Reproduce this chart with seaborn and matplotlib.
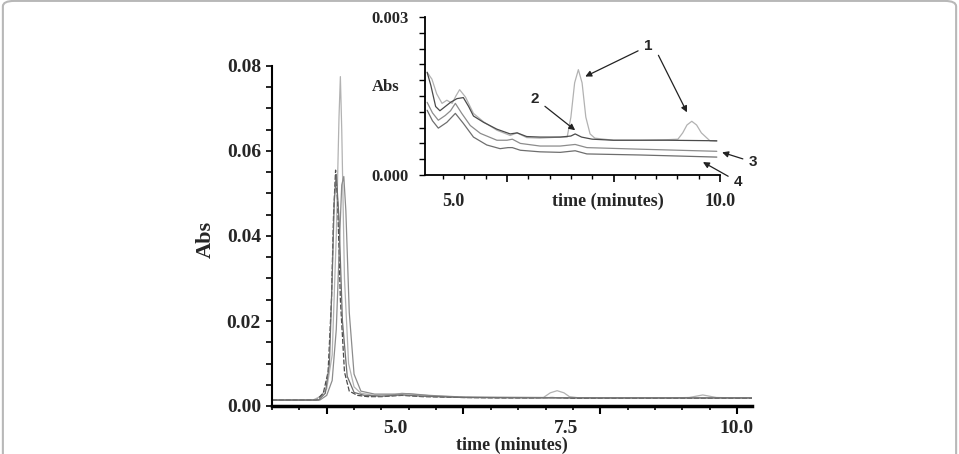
import matplotlib
matplotlib.use("Agg")
import matplotlib.pyplot as plt
import matplotlib.ticker as mticker
from matplotlib.patches import FancyBboxPatch
import seaborn as sns
import pandas as pd

# main chromatogram, four runs (time in minutes, absorbance)
t1 = [3.2, 3.8, 3.9, 4.0, 4.08, 4.14, 4.18, 4.20, 4.22, 4.26, 4.32, 4.40, 4.5, 4.7, 5.0, 5.1, 5.3,
      5.6, 6.0, 6.5, 7.0, 7.17, 7.27, 7.37, 7.47, 7.55, 7.7, 8.0, 8.5, 9.0, 9.3, 9.5, 9.7, 10.0, 10.25]
a1 = [.0014, .0014, .0022, .004, .012, .04, .068, .0775, .065, .03, .010, .0045, .0030, .0025, .0027,
      .0030, .0027, .0023, .0021, .0020, .0020, .0020, .0031, .0036, .0031, .0022, .0019, .0019, .0019,
      .0019, .0020, .0026, .0020, .0019, .0019]
t2 = [3.2, 3.85, 3.95, 4.02, 4.07, 4.10, 4.13, 4.16, 4.20, 4.26, 4.33, 4.45, 4.6, 4.8, 5.1, 5.4,
      6.0, 6.5, 7.0, 7.3, 7.6, 8.0, 9.0, 10.25]
a2 = [.0014, .0014, .003, .008, .025, .045, .0555, .048, .025, .008, .0035, .0025, .0022, .0022,
      .0025, .0022, .0020, .0019, .0019, .0020, .0018, .0018, .0018, .0018]
t3 = [3.2, 3.9, 4.0, 4.08, 4.14, 4.19, 4.22, 4.25, 4.28, 4.33, 4.4, 4.5, 4.7, 5.0, 5.2, 5.5, 6.0,
      7.0, 8.0, 9.0, 10.25]
a3 = [.0014, .0014, .0025, .006, .018, .04, .052, .054, .046, .022, .0075, .0035, .0028, .0028,
      .0029, .0025, .0021, .0020, .0019, .0019, .0019]
t4 = [3.2, 3.88, 3.98, 4.04, 4.08, 4.11, 4.14, 4.18, 4.23, 4.3, 4.4, 4.55, 4.8, 5.1, 5.4, 6.0,
      7.0, 8.0, 9.0, 10.25]
a4 = [.0014, .0014, .003, .010, .030, .048, .0545, .044, .020, .007, .0032, .0025, .0023, .0026,
      .0023, .0020, .0019, .0019, .0019, .0019]

# inset, zoom on 4.5-10 min
it1 = [4.50, 4.59, 4.68, 4.78, 4.87, 4.97, 5.04, 5.11, 5.22, 5.37, 5.56, 5.81, 6.06, 6.19, 6.37,
       6.62, 7.00, 7.13, 7.20, 7.27, 7.34, 7.41, 7.48, 7.56, 7.65, 8.0, 8.5, 9.0, 9.21, 9.30, 9.38,
       9.47, 9.56, 9.65, 9.81, 9.94]
ia1 = [.00195, .00182, .00154, .00136, .00142, .00136, .00150, .00162, .00148, .00117, .00101,
       .00085, .00075, .00080, .00071, .00070, .00072, .00072, .00110, .00175, .00200, .00175,
       .00110, .00078, .00070, .00066, .00066, .00067, .00068, .00080, .00095, .00102, .00095,
       .00080, .00065, .00064]
it2 = [4.50, 4.57, 4.66, 4.74, 4.84, 4.94, 5.06, 5.18, 5.28, 5.37, 5.56, 5.81, 6.06, 6.19, 6.37,
       6.62, 7.00, 7.20, 7.28, 7.40, 7.60, 8.0, 9.0, 9.94]
ia2 = [.00195, .00170, .00130, .00122, .00130, .00138, .00145, .00147, .00130, .00112, .00100,
       .00087, .00078, .00080, .00073, .00072, .00072, .00074, .00078, .00072, .00068, .00066,
       .00066, .00065]
it3 = [4.50, 4.60, 4.71, 4.84, 4.94, 5.03, 5.15, 5.31, 5.50, 5.81, 6.00, 6.10, 6.25, 6.62, 7.00,
       7.28, 7.50, 8.5, 9.94]
ia3 = [.00138, .00118, .00104, .00113, .00122, .00136, .00117, .00094, .00079, .00066, .00066,
       .00068, .00060, .00055, .00055, .00058, .00052, .00049, .00045]
it4 = [4.50, 4.60, 4.71, 4.87, 5.03, 5.18, 5.37, 5.62, 5.87, 6.02, 6.10, 6.25, 6.62, 7.00, 7.28,
       7.50, 8.5, 9.94]
ia4 = [.00123, .00103, .00089, .00100, .00117, .00098, .00072, .00057, .00050, .00052, .00052,
       .00047, .00044, .00043, .00046, .00040, .00038, .00034]

colors = ["#b2b2b2", "#4a4a4a", "#8c8c8c", "#6e6e6e"]

sns.set_theme(style="ticks")
plt.rcParams["font.family"] = ["Liberation Serif", "DejaVu Serif"]
plt.rcParams["font.weight"] = "bold"
plt.rcParams["lines.solid_joinstyle"] = "round"

fig = plt.figure(figsize=(9.59, 4.54), dpi=100)
fig.patches.append(FancyBboxPatch((0.003, -0.2), 0.994, 1.198, boxstyle="round,pad=0,rounding_size=0.012",
                                  transform=fig.transFigure, fc="none", ec="#b8b8b8", lw=1.5))

ax = fig.add_axes([272 / 959, 48 / 454, 480 / 959, 340 / 454])
for i, (t, a, c) in enumerate(zip([t1, t2, t3, t4], [a1, a2, a3, a4], colors)):
    df = pd.DataFrame({"time": t, "abs": a})
    line_kw = dict(dashes=(4, 1.5)) if i == 1 else {}
    sns.lineplot(data=df, x="time", y="abs", ax=ax, color=c, lw=0.9, sort=False, **line_kw)

ax.set_xlim(3.2, 10.22)
ax.set_ylim(0, 0.08)
ax.set_xticks([4, 6, 8, 10])
ax.xaxis.set_minor_locator(mticker.MultipleLocator(0.4))
ax.tick_params(axis="x", which="major", length=6, width=1.5, labelbottom=False, color="black")
ax.tick_params(axis="x", which="minor", length=3, width=1.2, color="black")
ax.set_yticks([0, 0.02, 0.04, 0.06, 0.08])
ax.yaxis.set_major_formatter(mticker.FormatStrFormatter("%.2f"))
ax.yaxis.set_minor_locator(mticker.MultipleLocator(0.005))
ax.tick_params(axis="y", which="both", length=4, width=1.2, pad=4, labelsize=14, color="black")
for s in ["top", "right"]:
    ax.spines[s].set_visible(False)
ax.spines["left"].set_linewidth(1.5)
ax.spines["bottom"].set_linewidth(2.5)
ax.spines["left"].set_color("black")
ax.spines["bottom"].set_color("black")

sec = ax.secondary_xaxis("bottom")
sec.set_xticks([5.0, 7.5, 10.0])
sec.xaxis.set_major_formatter(mticker.FormatStrFormatter("%.1f"))
sec.tick_params(length=0, pad=10, labelsize=14)
sec.spines["bottom"].set_visible(False)
sec.set_xlabel("time (minutes)", fontsize=13, fontweight="bold", labelpad=0)

ax.set_xlabel("")
ax.set_ylabel("Abs", fontsize=16, fontweight="bold")
ax.yaxis.set_label_coords(-0.118, 0.49)

# inset
ins = fig.add_axes([425 / 959, 279 / 454, 295 / 959, 158 / 454])
for t, a, c in zip([it1, it2, it3, it4], [ia1, ia2, ia3, ia4], colors):
    df = pd.DataFrame({"time": t, "abs": a})
    sns.lineplot(data=df, x="time", y="abs", ax=ins, color=c, lw=0.9, sort=False)

ins.set_xlim(4.46, 10.0)
ins.set_ylim(0, 0.003)
ins.set_xticks([6, 8, 10])
ins.xaxis.set_minor_locator(mticker.MultipleLocator(0.4))
ins.tick_params(axis="x", which="major", length=5, width=1.2, labelbottom=False, color="black")
ins.tick_params(axis="x", which="minor", length=3, width=1.0, color="black")
ins.set_yticks([0, 0.003])
ins.yaxis.set_major_formatter(mticker.FormatStrFormatter("%.3f"))
ins.yaxis.set_minor_locator(mticker.MultipleLocator(0.0003))
ins.tick_params(axis="y", which="both", length=4, width=1.0, pad=8, labelsize=12, color="black")
for s in ["top", "right"]:
    ins.spines[s].set_visible(False)
for s in ["left", "bottom"]:
    ins.spines[s].set_linewidth(1.3)
    ins.spines[s].set_color("black")

isec = ins.secondary_xaxis("bottom")
isec.set_xticks([5.0, 10.0])
isec.xaxis.set_major_formatter(mticker.FormatStrFormatter("%.1f"))
isec.tick_params(length=0, pad=13, labelsize=13)
isec.spines["bottom"].set_visible(False)

ins.set_xlabel("time (minutes)", fontsize=13, fontweight="bold")
ins.xaxis.set_label_coords(0.62, -0.11)
ins.set_ylabel("Abs", fontsize=12, fontweight="bold", rotation=0, va="center", ha="center")
ins.yaxis.set_label_coords(-0.135, 0.56)

arrow = dict(arrowstyle="-|>", color="#222222", lw=0.9, mutation_scale=9, shrinkA=2, shrinkB=0)
lbl = dict(fontsize=11, fontweight="bold", family=["Liberation Sans", "DejaVu Sans"],
           ha="center", va="center", annotation_clip=False)
ins.annotate("1", xy=(7.47, 0.00187), xytext=(8.65, 0.00245), arrowprops=arrow, **lbl)
ins.annotate("", xy=(9.38, 0.00119), xytext=(8.82, 0.00232), arrowprops=arrow, annotation_clip=False)
ins.annotate("2", xy=(7.28, 0.00085), xytext=(6.53, 0.00145), arrowprops=arrow, **lbl)
ins.annotate("3", xy=(10.04, 0.00043), xytext=(10.62, 0.000245), arrowprops=arrow, **lbl)
ins.annotate("4", xy=(9.68, 0.000245), xytext=(10.34, -0.00013), arrowprops=arrow, **lbl)

fig.savefig("out.png", dpi=100)
